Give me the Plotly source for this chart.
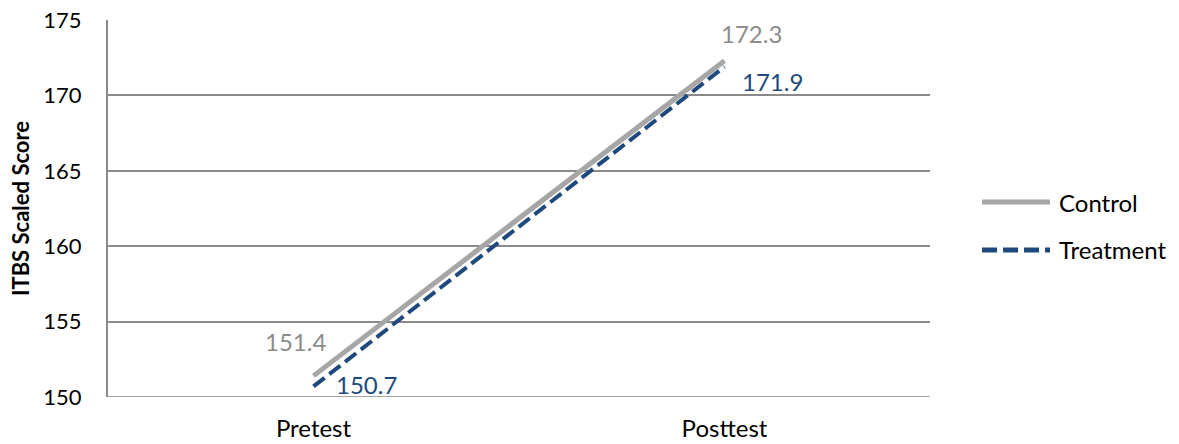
import plotly.graph_objects as go

# Test occasions and mean ITBS scaled scores per group
occasions = ["Pretest", "Posttest"]
control_scores = [151.4, 172.3]
treatment_scores = [150.7, 171.9]
y_ticks = [150, 155, 160, 165, 170, 175]
series_names = ["Control", "Treatment"]

CONTROL_COLOR = "#A6A6A6"
CONTROL_TEXT = "#8C8C8C"
TREATMENT_COLOR = "#1F497D"
GRID_COLOR = "#8A8A8A"
FONT = "Lato, 'Open Sans', sans-serif"
TREATMENT_DASH = "14px,6px"

fig = go.Figure()

fig.add_trace(go.Scatter(
    x=occasions, y=control_scores, name=series_names[0], mode="lines",
    line=dict(color=CONTROL_COLOR, width=5), showlegend=False,
))
fig.add_trace(go.Scatter(
    x=occasions, y=treatment_scores, name=series_names[1], mode="lines",
    line=dict(color=TREATMENT_COLOR, width=4, dash=TREATMENT_DASH), showlegend=False,
))

# Value labels next to each point
label_offsets_control = [(-18, 34), (27, 27)]
label_offsets_treatment = [(53, 2), (48, -15)]
for x, y, (dx, dy) in zip(occasions, control_scores, label_offsets_control):
    fig.add_annotation(x=x, y=y, text=f"{y:.1f}", showarrow=False,
                       xshift=dx, yshift=dy,
                       font=dict(family=FONT, size=24, color=CONTROL_TEXT))
for x, y, (dx, dy) in zip(occasions, treatment_scores, label_offsets_treatment):
    fig.add_annotation(x=x, y=y, text=f"{y:.1f}", showarrow=False,
                       xshift=dx, yshift=dy,
                       font=dict(family=FONT, size=24, color=TREATMENT_COLOR))

# Legend to the right of the plot area
legend_rows = [
    (series_names[0], 0.517, dict(color=CONTROL_COLOR, width=5)),
    (series_names[1], 0.390, dict(color=TREATMENT_COLOR, width=5, dash="15px,6px")),
]
for name, ly, line_style in legend_rows:
    fig.add_shape(type="line", xref="paper", yref="paper",
                  x0=1.0633, x1=1.146, y0=ly, y1=ly, line=line_style)
    fig.add_annotation(xref="paper", yref="paper", x=1.1545, y=ly,
                       xanchor="left", yanchor="middle", text=name,
                       showarrow=False,
                       font=dict(family=FONT, size=24, color="black"))

fig.update_layout(
    width=1179, height=444,
    margin=dict(l=108, r=249, t=20, b=47),
    paper_bgcolor="white", plot_bgcolor="white",
    font=dict(family=FONT, size=22, color="black"),
    showlegend=False,
)

fig.update_xaxes(
    type="category", range=[-0.5, 1.5], automargin=False,
    showgrid=False, showline=False, zeroline=False,
    ticks="", ticklabelstandoff=15,
    tickfont=dict(family=FONT, size=24, color="black"),
)
fig.update_yaxes(
    range=[150, 175], tickvals=y_ticks, automargin=False,
    showgrid=True, gridcolor=GRID_COLOR, gridwidth=1.5,
    showline=True, linecolor=GRID_COLOR, linewidth=2,
    zeroline=False, ticks="", ticklabelstandoff=20,
    tickfont=dict(family=FONT, size=22, color="black"),
    title=dict(text="<b>ITBS Scaled Score</b>", standoff=8,
               font=dict(family=FONT, size=22, color="black")),
)

# Horizontal baseline at the bottom of the plot area
fig.add_shape(type="line", xref="paper", yref="y", x0=0, x1=1, y0=150, y1=150,
              line=dict(color=GRID_COLOR, width=1.5), layer="below")

fig.write_html("out.html")
